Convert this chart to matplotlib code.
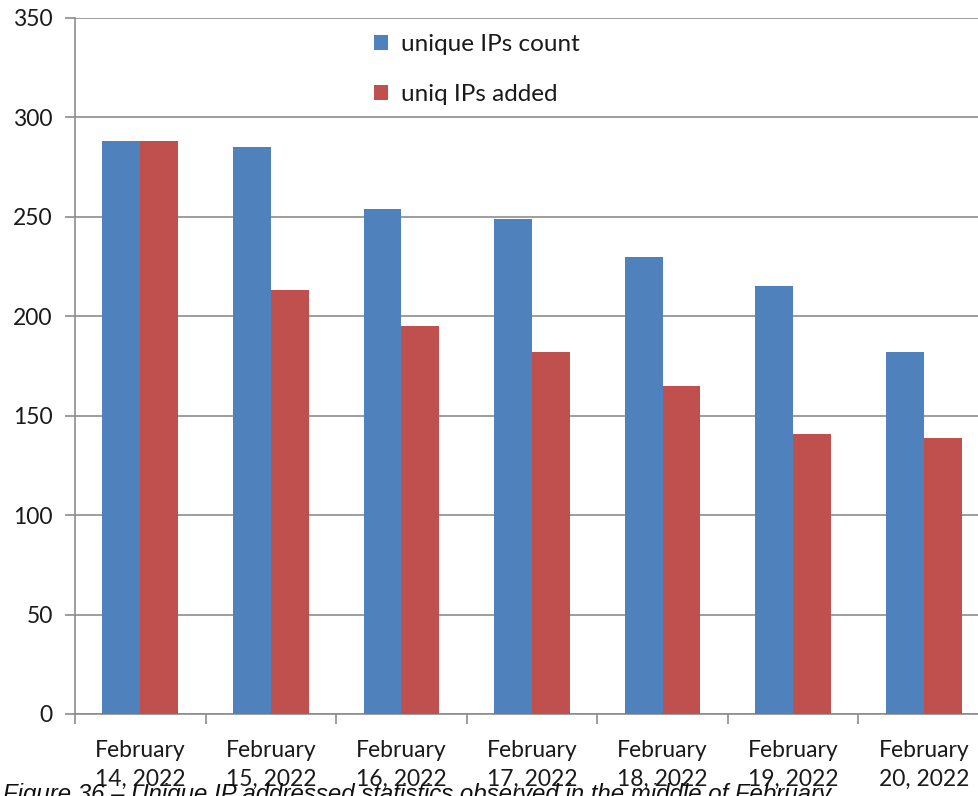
import matplotlib
matplotlib.use("Agg")
import matplotlib.pyplot as plt
import numpy as np

categories = ["February\n14, 2022", "February\n15, 2022", "February\n16, 2022",
              "February\n17, 2022", "February\n18, 2022", "February\n19, 2022",
              "February\n20, 2022"]
unique_count = [288, 285, 254, 249, 230, 215, 182]
uniq_added = [288, 213, 195, 182, 165, 141, 139]
yticks = [0, 50, 100, 150, 200, 250, 300, 350]
caption = "Figure 36 \u2013 Unique IP addressed statistics observed in the middle of February"

blue = "#4F81BD"
red = "#C0504D"
grid_col = "#8C8C8C"

fig = plt.figure(figsize=(9.79, 7.96), dpi=100)
ax = fig.add_axes([75/979, 1-714/796, (989-75)/979, (714-18)/796])

x = np.arange(len(categories))
w = 0.29
ax.bar(x - w/2, unique_count, w, color=blue, label="unique IPs count", zorder=3)
ax.bar(x + w/2, uniq_added, w, color=red, label="uniq IPs added", zorder=3)

ax.set_xlim(-0.5, len(categories) - 0.5)
ax.set_ylim(0, 350)
ax.set_yticks(yticks)
ax.set_yticklabels([str(v) for v in yticks], fontfamily="Lato", fontsize=16.5, color="#1a1a1a")
ax.yaxis.grid(True, color=grid_col, linewidth=1.2, zorder=0)

ax.set_xticks(np.arange(len(categories) + 1) - 0.5, minor=True)
ax.set_xticks(x)
ax.set_xticklabels(categories, fontfamily="Lato", fontsize=16.5, color="#1a1a1a", linespacing=1.45)
ax.tick_params(axis="x", which="major", length=0, pad=19)
ax.tick_params(axis="x", which="minor", length=7, color=grid_col, width=1.2, direction="out")
ax.tick_params(axis="y", length=7, color=grid_col, width=1.2, direction="out", pad=9)

for s in ["top", "right"]:
    ax.spines[s].set_visible(False)
for s in ["left", "bottom"]:
    ax.spines[s].set_color(grid_col)
    ax.spines[s].set_linewidth(1.2)

leg = ax.legend(loc="upper left", bbox_to_anchor=((352-75)/914, 1 + 6/696), frameon=False,
                prop={"family": "Lato", "size": 17.5}, handlelength=0.6, handleheight=0.6,
                handletextpad=0.5, labelspacing=1.2)
for t in leg.get_texts():
    t.set_color("#1a1a1a")

fig.text(3/979, 1 - 783/796, caption, ha="left", va="top", fontfamily="Liberation Sans",
         fontstyle="italic", fontsize=17.3, color="#111111")

fig.savefig("out.png", dpi=100)
